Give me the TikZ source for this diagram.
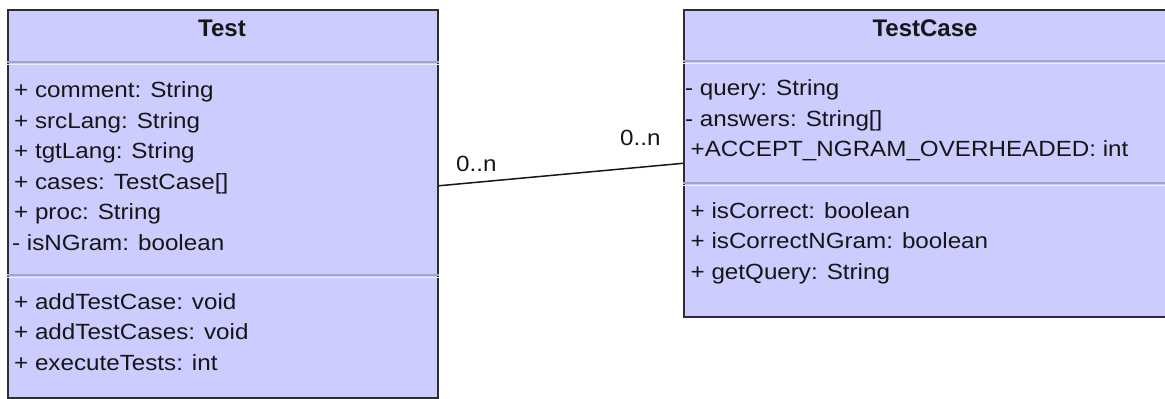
\documentclass[tikz,border=0pt]{standalone}
\usepackage{fontspec}
\setmainfont{Liberation Sans}
\newfontfamily\bodyfont[FakeStretch=1.1]{Liberation Sans}
\definecolor{classfill}{RGB}{204,204,255}
\definecolor{classedge}{RGB}{45,45,50}
\definecolor{sepdark}{RGB}{165,165,190}
\definecolor{seplight}{RGB}{236,236,255}
\definecolor{ink}{RGB}{22,22,22}
\tikzset{
  classbox/.style={draw=classedge, line width=1.6pt, fill=classfill,
    anchor=north west, inner sep=0pt},
  title/.style={font=\fontsize{24}{28}\selectfont\bfseries, text=ink,
    anchor=base, inner sep=0pt},
  member/.style={font=\bodyfont\fontsize{22}{26}\selectfont, text=ink,
    anchor=base west, inner sep=0pt},
  mult/.style={font=\bodyfont\fontsize{22}{26}\selectfont, text=ink,
    anchor=base west, inner sep=0pt},
  assoc/.style={draw=ink, line width=1.5pt},
  sepdark/.style={draw=sepdark, line width=1.3pt},
  seplight/.style={draw=seplight, line width=1.3pt}
}
\begin{document}
\begin{tikzpicture}[x=1pt, y=-1pt]
\useasboundingbox (0,0) rectangle (1165,399);

% class boxes
\node[classbox, minimum width=430pt, minimum height=388pt] (test) at (7,9) {};
\node[classbox, minimum width=484pt, minimum height=307pt] (tc) at (683,9) {};

% compartment separators
\draw[sepdark] (test.west |- 0,62) -- (test.east |- 0,62);
\draw[seplight] (test.west |- 0,64.2) -- (test.east |- 0,64.2);
\draw[sepdark] (test.west |- 0,275) -- (test.east |- 0,275);
\draw[seplight] (test.west |- 0,277.2) -- (test.east |- 0,277.2);
\draw[sepdark] (tc.west |- 0,61) -- (tc.east |- 0,61);
\draw[seplight] (tc.west |- 0,63.2) -- (tc.east |- 0,63.2);
\draw[sepdark] (tc.west |- 0,183) -- (tc.east |- 0,183);
\draw[seplight] (tc.west |- 0,185.2) -- (tc.east |- 0,185.2);

% Test
\node[title] (testname) at (222,36) {Test};
\node[member] (t1) at (14,97.5) {+ comment: String};
\node[member] (t2) at (14,128) {+ srcLang: String};
\node[member] (t3) at (14,158.5) {+ tgtLang: String};
\node[member] (t4) at (14,189) {+ cases: TestCase[]};
\node[member] (t5) at (14,219.5) {+ proc: String};
\node[member] (t6) at (12,250) {- isNGram: boolean};
\node[member] (t7) at (14,309) {+ addTestCase: void};
\node[member] (t8) at (14,339.5) {+ addTestCases: void};
\node[member] (t9) at (14,370) {+ executeTests: int};

% TestCase
\node[title] (tcname) at (925,36) {TestCase};
\node[member] (c1) at (685,95.5) {- query: String};
\node[member] (c2) at (685,126) {- answers: String[]};
\node[member] (c3) at (690.5,156.5) {+ACCEPT\_NGRAM\_OVERHEADED: int};
\node[member] (c4) at (690.5,218) {+ isCorrect: boolean};
\node[member] (c5) at (690.5,248.5) {+ isCorrectNGram: boolean};
\node[member] (c6) at (690.5,279) {+ getQuery: String};

% association
\draw[assoc] ([yshift=18pt]test.east) -- (tc.west);
\node[mult] (m1) at (456,171) {0..n};
\node[mult] (m2) at (620,145) {0..n};
\end{tikzpicture}
\end{document}
